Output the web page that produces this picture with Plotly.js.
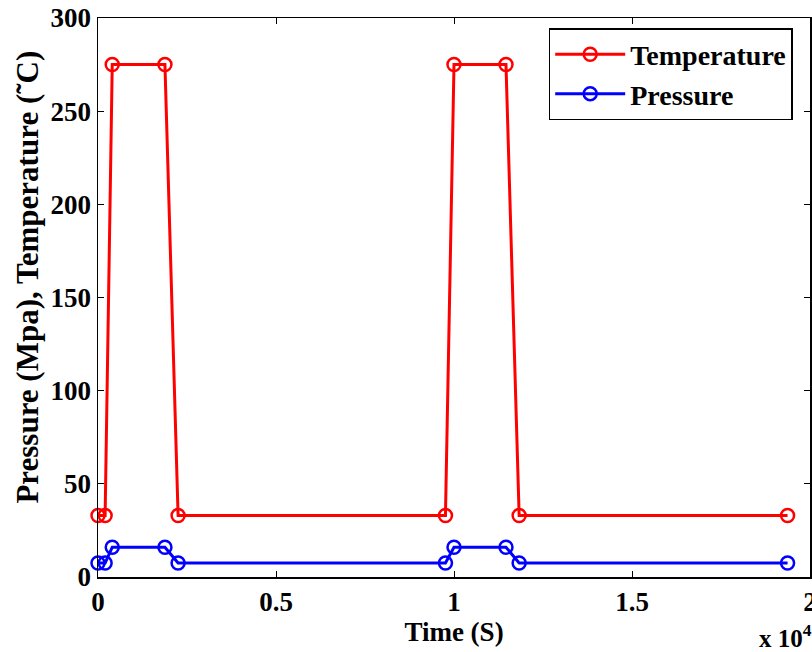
<!DOCTYPE html>
<html>
<head>
<meta charset="utf-8">
<script src="https://cdn.plot.ly/plotly-3.0.1.min.js"></script>
<style>
  html, body { margin: 0; padding: 0; background: #ffffff; }
  #chart { width: 812px; height: 652px; }
</style>
</head>
<body>
<div id="chart"></div>
<script>
// Time (s)
var timeS = [0, 200, 400, 1880, 2250, 9760, 10000, 11460, 11830, 19370];
// Temperature (°C)
var temperature = [33, 33, 275, 275, 33, 33, 275, 275, 33, 33];
// Pressure (MPa)
var pressure = [7.5, 7.5, 16, 16, 7.5, 7.5, 16, 16, 7.5, 7.5];

var xTickVals = [0, 5000, 10000, 15000, 20000];
var xTickText = ["0", "0.5", "1", "1.5", "2"];
var yTickVals = [0, 50, 100, 150, 200, 250, 300];

var seriesNames = ["Temperature", "Pressure"];
var seriesColors = ["#ff0000", "#0000ff"];

var xTitle = "Time (S)";
var yTitle = "Pressure (Mpa), Temperature (˜C)";
var xExponent = "x 10<sup>4</sup>";

var FONT = "Liberation Serif, Times New Roman, serif";

function makeTrace(y, i) {
  return {
    x: timeS,
    y: y,
    name: seriesNames[i],
    type: "scatter",
    mode: "lines+markers",
    line: { color: seriesColors[i], width: 3 },
    marker: {
      symbol: "circle-open",
      size: 13,
      color: seriesColors[i],
      line: { color: seriesColors[i], width: 2.5 }
    },
    cliponaxis: false
  };
}

var data = [makeTrace(temperature, 0), makeTrace(pressure, 1)];

var axisCommon = {
  showgrid: false,
  zeroline: false,
  showline: true,
  linecolor: "#000000",
  linewidth: 1.5,
  mirror: "ticks",
  ticks: "inside",
  ticklen: 6,
  tickwidth: 1,
  tickcolor: "#000000",
  ticklabeloverflow: "allow",
  tickfont: { family: FONT, size: 27, color: "#000000", weight: "bold" }
};

var layout = {
  width: 812,
  height: 652,
  paper_bgcolor: "#ffffff",
  plot_bgcolor: "#ffffff",
  margin: { l: 98, r: 2, t: 18, b: 75 },
  showlegend: true,
  legend: {
    x: 0.633, y: 0.982, xanchor: "left", yanchor: "top",
    bgcolor: "#ffffff",
    bordercolor: "#000000",
    borderwidth: 1.5,
    itemwidth: 70,
    tracegroupgap: 0,
    font: { family: FONT, size: 28, color: "#000000", weight: "bold" }
  },
  xaxis: Object.assign({}, axisCommon, {
    range: [0, 20000],
    tickmode: "array",
    tickvals: xTickVals,
    ticktext: xTickText,
    title: { text: xTitle, standoff: 1,
             font: { family: FONT, size: 27, color: "#000000", weight: "bold" } }
  }),
  yaxis: Object.assign({}, axisCommon, {
    range: [0, 300],
    tickmode: "array",
    tickvals: yTickVals
  }),
  annotations: [{
    xref: "paper", yref: "paper",
    x: -0.0986, y: 0.537, xanchor: "center", yanchor: "middle",
    textangle: -90,
    showarrow: false,
    text: yTitle,
    font: { family: FONT, size: 31, color: "#000000", weight: "bold" }
  }, {
    xref: "paper", yref: "paper",
    x: 1.005, y: -0.105, xanchor: "right", yanchor: "middle",
    showarrow: false,
    text: xExponent,
    font: { family: FONT, size: 25, color: "#000000", weight: "bold" }
  }]
};

Plotly.newPlot("chart", data, layout, { displayModeBar: false, staticPlot: true });
</script>
</body>
</html>
